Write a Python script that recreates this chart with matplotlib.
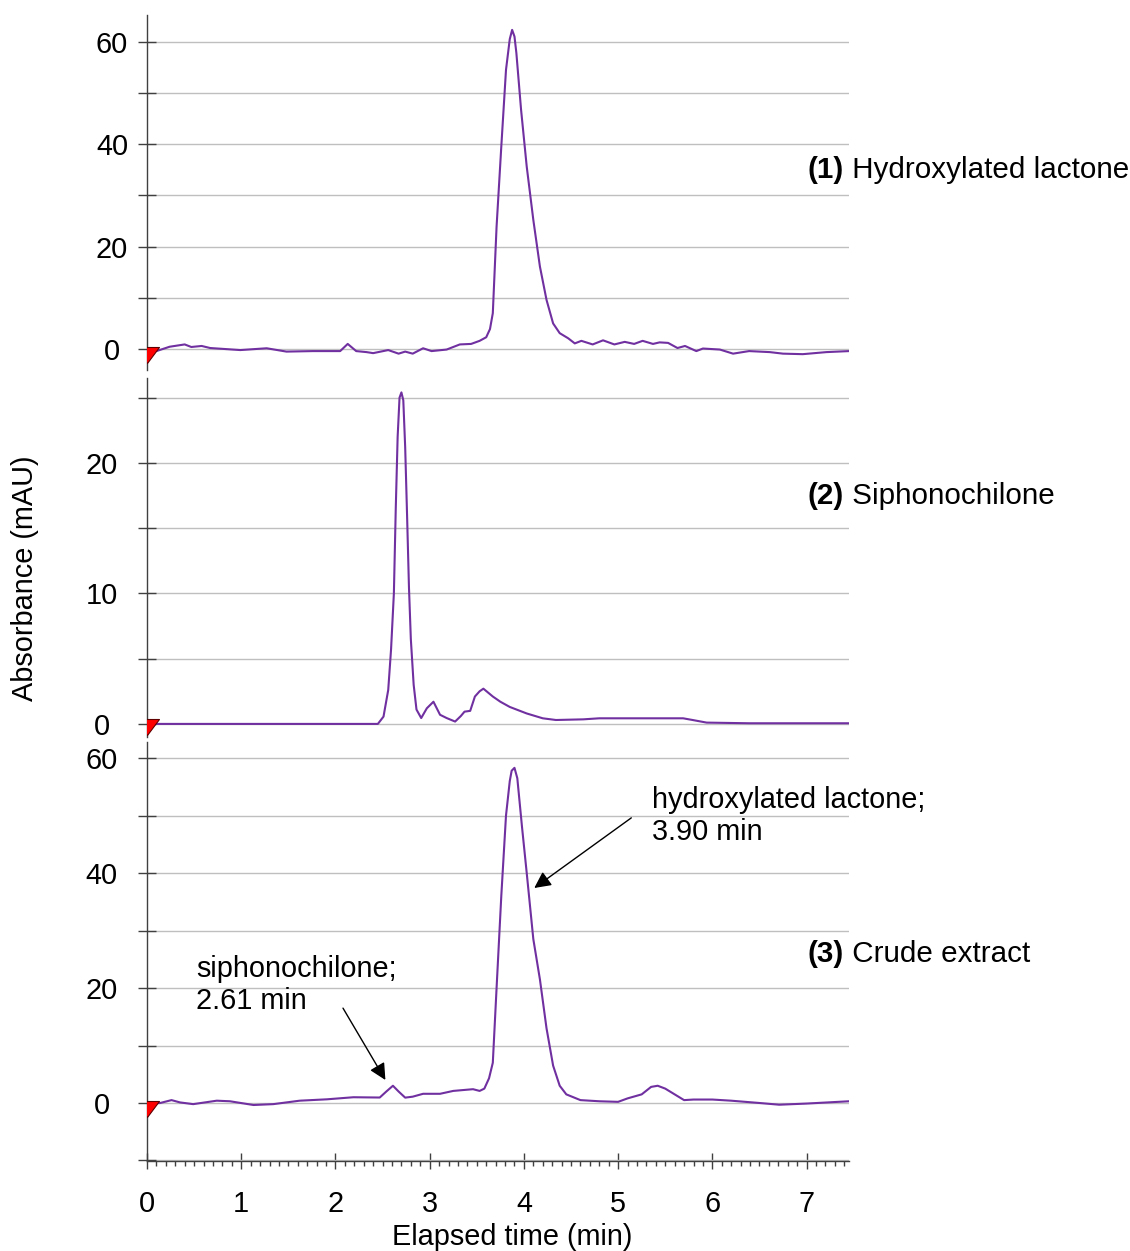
import matplotlib
matplotlib.use("Agg")
import matplotlib.pyplot as plt
from matplotlib.ticker import MultipleLocator

plt.rcParams['font.family'] = ['Liberation Sans', 'DejaVu Sans']

# Chromatogram (1): hydroxylated lactone standard
t1 = [0.0, 0.10, 0.24, 0.40, 0.47, 0.58, 0.67, 0.99, 1.27, 1.48,
      1.76, 2.05, 2.13, 2.22, 2.33, 2.40, 2.56, 2.67, 2.74, 2.82,
      2.93, 3.02, 3.18, 3.32, 3.44, 3.53, 3.60, 3.64, 3.67, 3.71,
      3.76, 3.81, 3.85, 3.875, 3.90, 3.92, 3.97, 4.03, 4.10, 4.17,
      4.24, 4.31, 4.38, 4.47, 4.54, 4.61, 4.73, 4.84, 4.96, 5.07,
      5.17, 5.26, 5.37, 5.44, 5.53, 5.63, 5.71, 5.83, 5.90, 6.08,
      6.22, 6.39, 6.61, 6.75, 6.96, 7.21, 7.45]
a1 = [-0.5, -0.4, 0.45, 0.9, 0.4, 0.6, 0.2, -0.2, 0.15, -0.5,
      -0.4, -0.4, 1.0, -0.4, -0.6, -0.8, -0.2, -0.9, -0.5, -0.9,
      0.15, -0.4, -0.1, 0.9, 1.0, 1.6, 2.3, 3.9, 7.0, 23.9,
      39.5, 54.5, 60.5, 62.3, 61.0, 57.8, 46.7, 35.6, 25.2, 16.1,
      9.6, 5.0, 3.1, 2.1, 1.1, 1.6, 0.9, 1.7, 0.9, 1.4,
      1.0, 1.6, 1.0, 1.3, 1.2, 0.2, 0.6, -0.4, 0.1, -0.1,
      -0.9, -0.4, -0.6, -0.9, -1.0, -0.6, -0.4]

# Chromatogram (2): siphonochilone standard
t2 = [0.0, 2.45, 2.51, 2.56, 2.59, 2.62, 2.64, 2.66, 2.68, 2.70,
      2.72, 2.74, 2.76, 2.78, 2.80, 2.83, 2.86, 2.91, 2.97, 3.04,
      3.11, 3.18, 3.27, 3.33, 3.37, 3.43, 3.48, 3.53, 3.57, 3.62,
      3.67, 3.75, 3.85, 4.03, 4.20, 4.34, 4.63, 4.80, 5.69, 5.79,
      5.94, 6.39, 7.45]
a2 = [0.0, 0.0, 0.56, 2.6, 5.7, 10.0, 16.5, 22.0, 25.0, 25.4,
      24.8, 21.2, 16.0, 10.5, 6.5, 3.0, 1.1, 0.45, 1.2, 1.7,
      0.7, 0.45, 0.18, 0.6, 0.94, 1.0, 2.1, 2.5, 2.7, 2.4,
      2.1, 1.7, 1.3, 0.8, 0.43, 0.3, 0.35, 0.43, 0.43, 0.3,
      0.1, 0.05, 0.05]

# Chromatogram (3): crude extract
t3 = [0.0, 0.07, 0.14, 0.26, 0.35, 0.49, 0.74, 0.88, 1.13, 1.34,
      1.62, 1.91, 2.19, 2.47, 2.54, 2.61, 2.67, 2.74, 2.82, 2.93,
      3.11, 3.25, 3.46, 3.53, 3.58, 3.63, 3.67, 3.71, 3.76, 3.81,
      3.85, 3.87, 3.90, 3.93, 3.98, 4.03, 4.10, 4.17, 4.24, 4.31,
      4.38, 4.45, 4.60, 4.80, 5.00, 5.10, 5.25, 5.35, 5.42, 5.50,
      5.60, 5.70, 5.80, 6.00, 6.20, 6.50, 6.71, 7.00, 7.45]
a3 = [-0.3, -0.05, 0.0, 0.5, 0.1, -0.2, 0.4, 0.3, -0.35, -0.2,
      0.4, 0.64, 1.0, 0.95, 2.0, 3.0, 2.0, 0.93, 1.1, 1.6,
      1.6, 2.1, 2.4, 2.1, 2.5, 4.3, 7.0, 20.0, 36.0, 50.0,
      56.0, 57.8, 58.3, 56.5, 48.0, 40.0, 28.5, 21.5, 13.0, 6.5,
      3.0, 1.5, 0.5, 0.3, 0.2, 0.8, 1.5, 2.8, 3.0, 2.5,
      1.5, 0.5, 0.6, 0.6, 0.4, 0.0, -0.3, -0.1, 0.3]

labels_num = ["(1)", "(2)", "(3)"]
labels_txt = [" Hydroxylated lactone", " Siphonochilone", " Crude extract"]

FS = 20.8
FS_LAB = 21.3
LINE_C = '#7030a0'
GRID_C = '#bfbfbf'
SPINE_C = '#404040'

fig = plt.figure(figsize=(11.3, 12.51), dpi=100)

left, width = 0.1301, 0.6212
# (bottom, height, ylim, major ticks, minor step, label pad, label y)
panels = [
    (0.7042, 0.2838, (-4.1, 65.2), [0, 20, 40, 60], 10, 18.7, 35.0),
    (0.4109, 0.2869, (-1.0, 26.5), [0, 10, 20], 5, 26.0, 17.5),
    (0.0719, 0.3350, (-10.1, 62.8), [0, 20, 40, 60], 10, 26.0, 25.9),
]
series = [(t1, a1), (t2, a2), (t3, a3)]

# custom right-angled triangle marker for the injection mark
tri = [(-12, 0), (12, 0), (0, -16), (-12, 0)]

axes = []
for i, (bot, h, ylim, major, mstep, pad, ly) in enumerate(panels):
    ax = fig.add_axes([left, bot, width, h])
    t, a = series[i]
    ax.plot(t, a, color=LINE_C, lw=1.5, zorder=3,
            solid_joinstyle='round', solid_capstyle='round')
    ax.plot([0], [0.4], marker=tri, ms=23, color='red', mec='#600000',
            mew=0.8, ls='none', zorder=4, clip_on=True)

    ax.set_xlim(0, 7.45)
    ax.set_ylim(*ylim)
    ax.set_yticks(major)
    ax.yaxis.set_minor_locator(MultipleLocator(mstep))
    ax.grid(True, which='both', axis='y', color=GRID_C, lw=1.0, zorder=0)
    ax.tick_params(axis='y', which='both', direction='inout', length=13,
                   width=1, color=SPINE_C, pad=pad, labelsize=FS)
    plt.setp(ax.get_yticklabels(), ha='center')

    for s in ['top', 'right', 'bottom']:
        ax.spines[s].set_visible(False)
    ax.spines['left'].set_color(SPINE_C)
    ax.spines['left'].set_linewidth(1.0)

    # panel label on the right: bold number then name
    num = ax.text(7.01, ly, labels_num[i], fontsize=FS_LAB, fontweight='bold',
                  va='center', ha='left', clip_on=False)
    ax.annotate(labels_txt[i], xy=(1, 0), xycoords=num, va='bottom',
                ha='left', fontsize=FS_LAB, annotation_clip=False)
    axes.append(ax)

# only the bottom panel carries the time axis
for ax in axes[:2]:
    ax.set_xticks([])
ax3 = axes[2]
ax3.spines['bottom'].set_visible(True)
ax3.spines['bottom'].set_color(SPINE_C)
ax3.spines['bottom'].set_linewidth(1.0)
ax3.xaxis.set_major_locator(MultipleLocator(1))
ax3.xaxis.set_minor_locator(MultipleLocator(0.1))
ax3.tick_params(axis='x', which='major', direction='inout', length=12,
                width=1, color=SPINE_C, pad=14.5, labelsize=FS)
ax3.tick_params(axis='x', which='minor', direction='out', length=3.6,
                width=1, color=SPINE_C)

# annotations in the crude extract
ax3.text(5.36, 49.9, "hydroxylated lactone;\n3.90 min", fontsize=FS,
         ha='left', va='center', linespacing=1.15)
ax3.annotate("", xy=(4.11, 37.4), xytext=(5.14, 49.6),
             arrowprops=dict(arrowstyle='-|>', color='black', lw=1.0,
                             mutation_scale=25, shrinkA=0, shrinkB=0))
ax3.text(0.52, 20.5, "siphonochilone;\n2.61 min", fontsize=FS,
         ha='left', va='center', linespacing=1.15)
ax3.annotate("", xy=(2.53, 4.0), xytext=(2.08, 16.5),
             arrowprops=dict(arrowstyle='-|>', color='black', lw=1.0,
                             mutation_scale=25, shrinkA=0, shrinkB=0))

fig.text(0.453, 0.011, "Elapsed time (min)", fontsize=FS, ha='center', va='center')
fig.text(0.022, 0.538, "Absorbance (mAU)", fontsize=FS, ha='center',
         va='center', rotation=90)

fig.savefig("out.png", dpi=100)
